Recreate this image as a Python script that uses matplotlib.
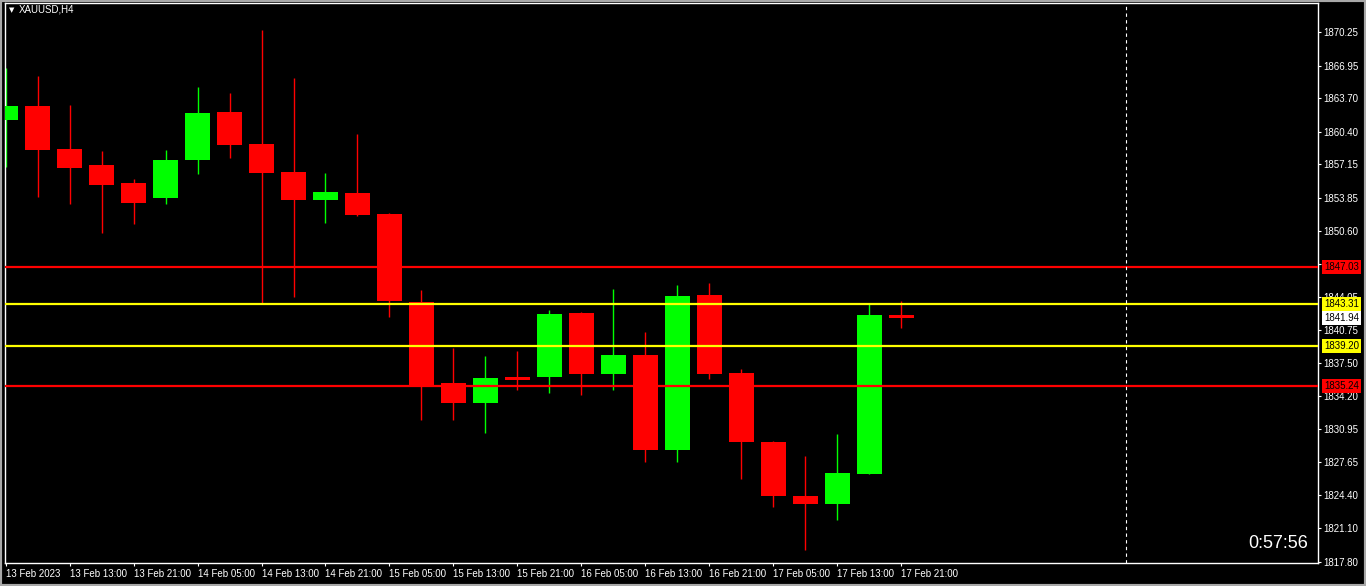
import matplotlib
matplotlib.use('Agg')
import matplotlib.pyplot as plt
from matplotlib.patches import Rectangle

# H4 candles
opens = [1861.56, 1862.95, 1858.69, 1857.10, 1855.32, 1853.86, 1857.60, 1862.35,
         1859.18, 1856.41, 1853.64, 1854.33, 1852.25, 1843.53, 1835.51, 1833.53,
         1836.10, 1836.10, 1842.44, 1836.40, 1838.28, 1828.87, 1844.23, 1836.50,
         1829.66, 1824.31, 1823.52, 1826.49, 1842.24]
highs = [1866.71, 1865.92, 1863.05, 1858.49, 1855.72, 1858.59, 1864.83, 1864.24,
         1870.48, 1865.72, 1856.31, 1860.17, 1852.35, 1844.72, 1838.97, 1838.18,
         1838.68, 1842.74, 1842.54, 1844.82, 1840.56, 1845.22, 1845.41, 1836.89,
         1829.76, 1828.27, 1830.45, 1843.43, 1843.63]
lows = [1856.94, 1853.96, 1853.24, 1850.40, 1851.26, 1853.24, 1856.21, 1857.80,
        1843.43, 1844.03, 1851.36, 1852.05, 1842.04, 1831.84, 1831.84, 1830.55,
        1834.81, 1834.52, 1834.32, 1834.81, 1827.68, 1827.68, 1835.90, 1826.00,
        1823.22, 1818.96, 1821.93, 1826.49, 1840.96]
closes = [1862.95, 1858.59, 1856.84, 1855.12, 1853.34, 1857.60, 1862.26, 1859.08,
          1856.31, 1853.64, 1854.43, 1852.15, 1843.63, 1835.31, 1833.53, 1836.00,
          1835.80, 1842.34, 1836.40, 1838.28, 1828.87, 1844.13, 1836.40, 1829.66,
          1824.31, 1823.52, 1826.59, 1842.24, 1841.94]

time_labels = ['13 Feb 2023', '13 Feb 13:00', '13 Feb 21:00', '14 Feb 05:00',
               '14 Feb 13:00', '14 Feb 21:00', '15 Feb 05:00', '15 Feb 13:00',
               '15 Feb 21:00', '16 Feb 05:00', '16 Feb 13:00', '16 Feb 21:00',
               '17 Feb 05:00', '17 Feb 13:00', '17 Feb 21:00']
price_ticks = [1870.25, 1866.95, 1863.70, 1860.40, 1857.15, 1853.85, 1850.60,
               1847.30, 1844.05, 1840.75, 1837.50, 1834.20, 1830.95, 1827.65,
               1824.40, 1821.10, 1817.80]
red_levels = [1847.03, 1835.24]
yellow_levels = [1843.31, 1839.20]
bid = 1841.94
separator_bar = 35.03
symbol = 'XAUUSD,H4'
timer = '0:57:56'

W, H = 1366, 586
fig = plt.figure(figsize=(W / 100, H / 100), dpi=100, facecolor='black')
ax = fig.add_axes([5 / W, 1 - 563 / H, (1318 - 5) / W, (563 - 3) / H])
ax.set_facecolor('black')

GREEN, RED, YELLOW = '#00ff00', '#ff0000', '#ffff00'
xs = list(range(len(opens)))
for x, o, h, l, c in zip(xs, opens, highs, lows, closes):
    col = GREEN if c > o else RED
    ax.vlines(x, l, h, color=col, lw=1, zorder=2)
    ax.bar(x, max(abs(c - o), 0.25), bottom=min(o, c), width=0.78,
           color=col, linewidth=0, zorder=3)

for p in red_levels:
    ax.axhline(p, color=RED, lw=1.6, zorder=4)
for p in yellow_levels:
    ax.axhline(p, color=YELLOW, lw=1.6, zorder=4)
ax.axvline(separator_bar, color='white', lw=0.8, ls=(0, (3, 3)), zorder=4)

ax.set_xlim(-0.02, 41.03)
ax.set_ylim(1817.67, 1873.15)

for s in ax.spines.values():
    s.set_color('white')
    s.set_linewidth(1)

ax.yaxis.tick_right()
ax.set_yticks(price_ticks)
ax.set_yticklabels(['%.2f' % p for p in price_ticks])
ax.set_xticks(xs[::2])
ax.set_xticklabels(time_labels, ha='left')
ax.tick_params(colors='white', labelcolor='white', labelsize=7, length=2.5,
               width=0.8, pad=1.5)
for lab in ax.get_xticklabels() + ax.get_yticklabels():
    lab.set_family('Liberation Sans')

# price labels on the right scale
def price_box(p, face):
    ax.annotate('%.2f' % p, xy=(1.0, p), xycoords=('axes fraction', 'data'),
                xytext=(4.5, 0), textcoords='offset points', ha='left', va='center',
                fontsize=7, family='Liberation Sans', color='black',
                annotation_clip=False, zorder=6,
                bbox=dict(boxstyle='square,pad=0.22', fc=face, ec='none'))

for p in red_levels:
    price_box(p, RED)
for p in yellow_levels:
    price_box(p, YELLOW)
price_box(bid, 'white')

fig.text(9 / W, 1 - 10 / H, '\u25bc', color='white', fontsize=5,
         family='DejaVu Sans', va='center', ha='left')
fig.text(19 / W, 1 - 10 / H, symbol, color='white', fontsize=7,
         family='Liberation Sans', va='center', ha='left')
fig.text(1308 / W, 1 - 544 / H, timer, color='white', fontsize=13,
         family='Liberation Sans', va='center', ha='right')

fig.patches.append(Rectangle((0, 0), 1, 1, transform=fig.transFigure, fill=False,
                             edgecolor='#a8a8a8', lw=3))

fig.savefig('out.png', dpi=100, facecolor='black')
